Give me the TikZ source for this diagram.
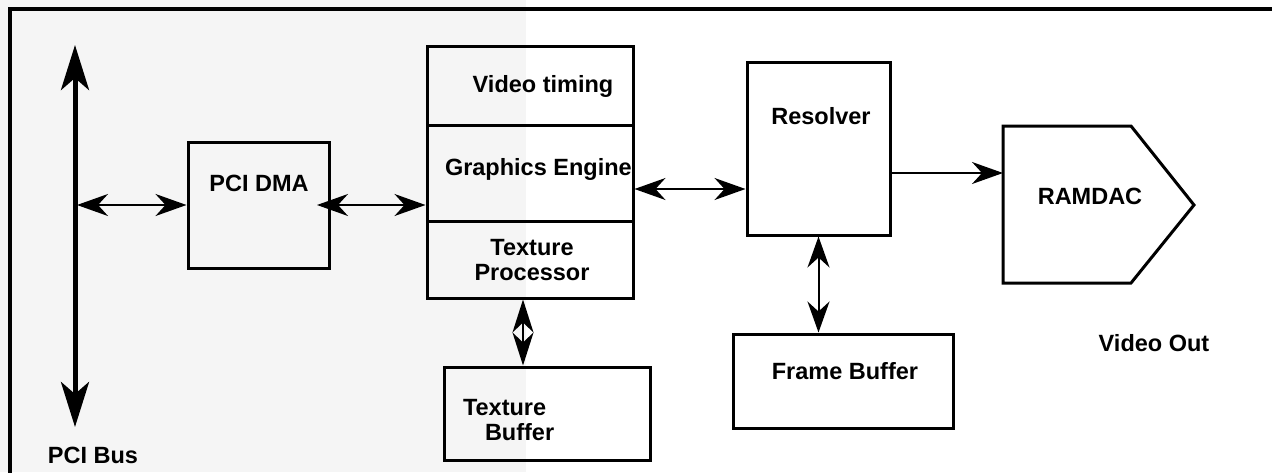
\documentclass[tikz,border=0pt]{standalone}
\usepackage{fontspec}
\setmainfont{Liberation Sans}
\usetikzlibrary{arrows.meta}
\begin{document}
\begin{tikzpicture}[x=1pt,y=-1pt,
  lbl/.style={font=\bfseries\fontsize{23.5}{25}\selectfont, inner sep=0pt, outer sep=0pt},
  box/.style={draw, line width=3pt, fill=none, inner sep=0pt},
  dbl/.style={line width=2pt, {Stealth[length=31pt,width=22pt,inset=10pt]}-{Stealth[length=31pt,width=22pt,inset=10pt]}},
  single/.style={line width=2pt, -{Stealth[length=31pt,width=22pt,inset=10pt]}},
  shortdbl/.style={line width=2pt, {Stealth[length=33pt,width=21pt,inset=10pt]}-{Stealth[length=33pt,width=21pt,inset=10pt]}},
  busline/.style={line width=5pt, {Stealth[length=45pt,width=28pt,inset=12pt]}-{Stealth[length=45pt,width=28pt,inset=12pt]}}]
\useasboundingbox (0,0) rectangle (1272,472);
% shaded left band and the frame
\fill[white] (0,0) rectangle (1272,472);
\fill[black!4] (0,0) rectangle (526,472);
\draw[line width=3.5pt] (10,473) -- (10,9) -- (1273,9);

% PCI bus
\coordinate (bustop) at (75,45);
\coordinate (busbot) at (75,427);
\draw[busline] (bustop) -- (busbot);
\node[lbl, anchor=base] (buslbl) at (93,463) {PCI Bus};

% blocks
\node[box, minimum width=141pt, minimum height=126pt] (dma) at (258.5,205) {};
\node[box, minimum width=206pt, minimum height=79pt] (vt) at (530,85.5) {};
\node[box, minimum width=206pt, minimum height=96pt] (ge) at (530,173) {};
\node[box, minimum width=206pt, minimum height=77pt] (tp) at (530,259.5) {};
\node[box, minimum width=206pt, minimum height=93pt] (tb) at (547,413.5) {};
\node[box, minimum width=143pt, minimum height=173pt] (res) at (818.5,148.5) {};
\node[box, minimum width=220pt, minimum height=94pt] (fb) at (843,381) {};

% RAMDAC outline
\draw[line width=3pt, line join=miter] (1003,126) -- (1131,126) -- (1194,205) -- (1131,283) -- (1003,283) -- cycle;
\coordinate (ramdacin) at (1003,173);

% labels (multi-line labels sit on the baseline of their last line)
\node[lbl, anchor=base] (dmalbl) at (259,191) {PCI DMA};
\node[lbl, anchor=base] (vtlbl) at (543,92) {Video timing};
\node[lbl, anchor=base west] (gelbl) at (445,175) {Graphics Engine};
\node[lbl, anchor=base, align=center] (tplbl) at (532,280) {Texture\\Processor};
\node[lbl, anchor=base west, align=left] (tblbl) at (463,440) {Texture\\\hspace*{22pt}Buffer};
\node[lbl, anchor=base] (reslbl) at (821,124) {Resolver};
\node[lbl, anchor=base] (fblbl) at (845,379) {Frame Buffer};
\node[lbl, anchor=base] (ramdaclbl) at (1090,204) {RAMDAC};
\node[lbl, anchor=base] (outlbl) at (1154,351) {Video Out};

% connectors
\coordinate (busport) at (77,205);
\coordinate (dmaport) at (317,205);
\coordinate (geres) at (0,189);
\coordinate (resout) at (0,173);
\coordinate (texcol) at (523,0);
\draw[dbl] (busport) -- (dma.west);
\draw[dbl] (dmaport) -- (ge.west |- dmaport);
\draw[dbl] (ge.east |- geres) -- (res.west |- geres);
\draw[single] (res.east |- resout) -- (ramdacin);
\draw[dbl] (res.south) -- (res.south |- fb.north);
\draw[shortdbl] (tp.south -| texcol) -- (tb.north -| texcol);
\end{tikzpicture}
\end{document}
